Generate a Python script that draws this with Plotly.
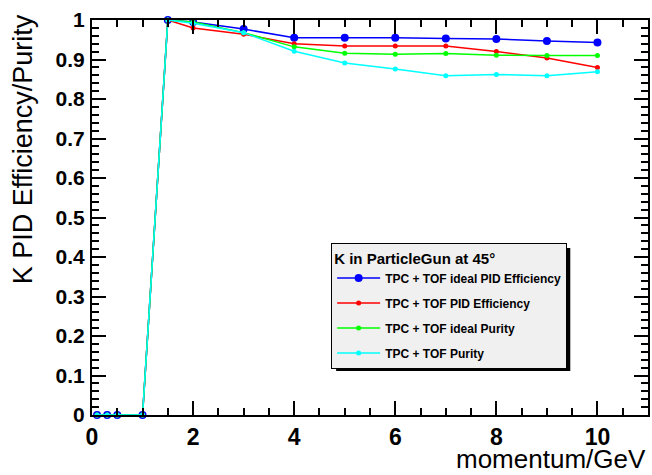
import plotly.graph_objects as go

momentum = [0.1, 0.3, 0.5, 1.0, 1.5, 2, 3, 4, 5, 6, 7, 8, 9, 10]
ideal_eff = [0, 0, 0, 0, 1.0, 0.995, 0.977, 0.955, 0.955, 0.955, 0.953, 0.952, 0.947, 0.943]
eff = [0, 0, 0, 0, 1.0, 0.980, 0.964, 0.940, 0.934, 0.934, 0.934, 0.920, 0.904, 0.880]
ideal_pur = [0, 0, 0, 0, 1.0, 0.995, 0.968, 0.932, 0.916, 0.913, 0.915, 0.911, 0.910, 0.910]
pur = [0, 0, 0, 0, 1.0, 0.992, 0.968, 0.921, 0.891, 0.876, 0.859, 0.862, 0.859, 0.869]

series = [
    ("TPC + TOF ideal PID Efficiency", ideal_eff, "#0000ff", 8),
    ("TPC + TOF PID Efficiency", eff, "#ff0000", 5),
    ("TPC + TOF ideal Purity", ideal_pur, "#00ff00", 5),
    ("TPC + TOF Purity", pur, "#00ffff", 5),
]

fig = go.Figure()
for i, (name, vals, col, ms) in enumerate(series):
    fig.add_trace(go.Scatter(
        x=momentum, y=vals, name=name, mode="lines+markers",
        line=dict(color=col, width=1.5),
        marker=dict(color=col, size=ms, symbol="circle"),
        legendgroup=f"g{i}", cliponaxis=False,
    ))

axis_common = dict(
    showgrid=False, zeroline=False, showline=True, linecolor="black", linewidth=2,
    mirror="ticks", ticks="inside", tickcolor="black", tickwidth=2,
)

fig.update_xaxes(range=[0, 11], dtick=2, tick0=0, ticklen=14,
                 tickfont=dict(family="Liberation Sans", size=23, color="black", weight="bold"),
                 minor=dict(dtick=0.5, ticks="inside", ticklen=7, tickcolor="black", tickwidth=1.5),
                 **axis_common)
fig.update_yaxes(range=[0, 1], dtick=0.1, tick0=0, ticklen=14, ticklabelstandoff=1,
                 tickfont=dict(family="Liberation Sans", size=21, color="black", weight="bold"),
                 minor=dict(dtick=0.02, ticks="inside", ticklen=7, tickcolor="black", tickwidth=1.5),
                 **axis_common)

fig.update_layout(
    width=652, height=475,
    margin=dict(l=92, r=2, t=20, b=60),
    plot_bgcolor="white", paper_bgcolor="white",
    font=dict(family="Liberation Sans", color="black"),
    legend=dict(
        x=(332 - 92) / 558, y=(415 - 243) / 395, xanchor="left", yanchor="top",
        bgcolor="#f0f0f0", bordercolor="black", borderwidth=1,
        font=dict(family="Liberation Sans", size=12, color="black", weight="bold"),
        title=dict(text="K in ParticleGun at 45°",
                   font=dict(family="Liberation Sans", size=15, color="black", weight="bold")),
        itemwidth=43, tracegroupgap=6,
    ),
    annotations=[
        dict(text="momentum/GeV", xref="paper", yref="paper", x=1.0, y=(415 - 476) / 395,
             xanchor="right", yanchor="bottom", showarrow=False,
             font=dict(family="Liberation Sans", size=26, color="black")),
        dict(text="K PID Efficiency/Purity", xref="paper", yref="paper", x=(23 - 92) / 558,
             y=(415 - 12) / 395, xanchor="center", yanchor="top", textangle=-90, showarrow=False,
             font=dict(family="Liberation Sans", size=27, color="black")),
    ],
    shapes=[
        dict(type="rect", xref="paper", yref="paper",
             x0=(337 - 92) / 558, x1=(572 - 92) / 558,
             y0=(415 - 371) / 395, y1=(415 - 248) / 395,
             fillcolor="black", line=dict(width=0), layer="above"),
    ],
    showlegend=True,
)

fig.write_html("out.html")
